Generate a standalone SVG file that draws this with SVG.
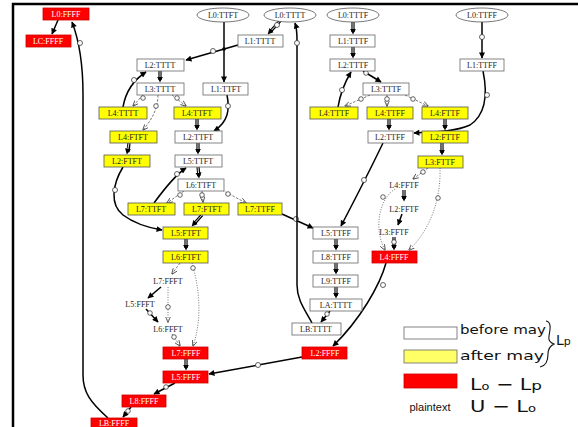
<svg xmlns="http://www.w3.org/2000/svg" width="578" height="427" viewBox="0 0 578 427">
<defs>
<style>
.w{fill:#fff;stroke:#666;stroke-width:0.8}
.y{fill:#ffff00;stroke:#555;stroke-width:0.8}
.r{fill:#f00;stroke:#c00;stroke-width:0.8}
.e{fill:#fff;stroke:#555;stroke-width:0.8}
.t{font-family:"Liberation Serif","Times New Roman",serif;font-size:8px;text-anchor:middle;fill:#222}
.tw{font-family:"Liberation Serif","Times New Roman",serif;font-size:8px;text-anchor:middle;fill:#fff}
.b{fill:none;stroke:#000;stroke-width:1.5;marker-end:url(#ah)}
.db{fill:none;stroke:#000;stroke-width:3.2}
.dw{fill:none;stroke:#fff;stroke-width:0.9;marker-end:url(#ah2)}
.d{fill:none;stroke:#555;stroke-width:0.8;stroke-dasharray:2.5,1.5;marker-end:url(#oh)}
.dt{fill:none;stroke:#555;stroke-width:0.8;stroke-dasharray:1,1.5;marker-end:url(#oh)}
.o{fill:#fff;stroke:#222;stroke-width:0.7}
.hw{font-family:"DejaVu Sans","Liberation Sans",sans-serif;fill:#111}
</style>
<marker id="ah" viewBox="0 0 10 10" refX="9" refY="5" markerWidth="7" markerHeight="6" markerUnits="userSpaceOnUse" orient="auto"><path d="M0,0 L10,5 L0,10 z" fill="#000"/></marker>
<marker id="ah2" viewBox="0 0 10 10" refX="9" refY="5" markerWidth="6" markerHeight="7" markerUnits="userSpaceOnUse" orient="auto"><path d="M0,0 L10,5 L0,10 z" fill="#000"/></marker>
<marker id="oh" viewBox="0 0 10 10" refX="9" refY="5" markerWidth="6" markerHeight="6" markerUnits="userSpaceOnUse" orient="auto"><path d="M0,1 L10,5 L0,9" fill="none" stroke="#444" stroke-width="1.4"/></marker>
</defs>
<rect width="578" height="427" fill="#fff"/>
<path d="M13,427 L13,4 L578,4" fill="none" stroke="#000" stroke-width="2.5"/>

<g id="connectors">
<path class="b" d="M58,20 L52,34"/>
<path class="b" d="M108,418 C 90,402 83,392 83,375 L83,95 C 83,65 79,40 72,22"/>
<circle class="o" cx="80" cy="43" r="2.5"/>
<path class="b" d="M224,22 L224,82"/>
<path class="db" d="M280,21 L270,32"/><path class="dw" d="M280,21 L268,34"/>
<circle class="o" cx="277" cy="25" r="2.5"/>
<path class="b" d="M238,45 L186,60"/>
<circle class="o" cx="213" cy="51" r="2.5"/>
<circle cx="224" cy="49" r="1.8" fill="#000"/>
<path class="db" d="M160,71 L160,80"/><path class="dw" d="M160,71 L160,82"/>
<path class="b" d="M123,107 C 126,90 135,79 146,72"/>
<circle class="o" cx="134" cy="80" r="2.5"/>
<path class="d" d="M143,95 L133,106"/><circle class="o" cx="143" cy="98" r="2.3"/>
<path class="d" d="M158,95 C 158,110 150,122 143,130"/><circle class="o" cx="156" cy="106" r="2.3"/>
<path class="d" d="M172,95 L186,106"/><circle class="o" cx="177" cy="98" r="2.3"/>
<path class="b" d="M227,95 C 230,110 228,122 214,131"/><circle class="o" cx="228" cy="106" r="2.5"/>
<path class="db" d="M197,119 L197,128"/><path class="dw" d="M197,119 L197,130"/>
<path class="db" d="M198,143 L198,152"/><path class="dw" d="M198,143 L198,154"/>
<path class="db" d="M198,167 L199,176"/><path class="dw" d="M198,167 L199,178"/>
<path class="db" d="M129,143 L128,152"/><path class="dw" d="M129,143 L127,154"/>
<path class="b" d="M123,167 C 112,185 110,205 123,215 C 135,224 150,228 162,230"/><circle class="o" cx="115" cy="190" r="2.5"/>
<path class="b" d="M154,203 C 165,188 175,175 186,168"/><circle class="o" cx="177" cy="174" r="2.5"/>
<path class="d" d="M184,191 L167,203"/><circle class="o" cx="180" cy="195" r="2.3"/>
<path class="d" d="M202,191 L203,202"/><circle class="o" cx="202" cy="195" r="2.3"/>
<path class="d" d="M222,190 L246,203"/><circle class="o" cx="228" cy="194" r="2.3"/>
<path class="db" d="M202,215 L194,224"/><path class="dw" d="M202,215 L192,226"/>
<path class="db" d="M186,239 L186,248"/><path class="dw" d="M186,239 L186,250"/>
<path class="d" d="M180,263 L172,274"/>
<path class="dt" d="M192,263 C 200,290 202,320 193,346"/><circle class="o" cx="193" cy="268" r="2.3"/>
<path class="b" d="M161,287 L148,298"/>
<path class="dt" d="M168,287 L168,322"/><circle class="o" cx="168" cy="307" r="2.3"/>
<path class="b" d="M146,309 L158,322"/><circle class="o" cx="150" cy="313" r="2.3"/>
<path class="d" d="M172,334 L180,346"/><circle class="o" cx="174" cy="337" r="2.3"/>
<path class="db" d="M186,359 L186,368"/><path class="dw" d="M186,359 L186,370"/>
<path class="b" d="M175,383 L154,394"/><circle class="o" cx="166" cy="387" r="2.3"/>
<path class="b" d="M131,407 L123,417"/><circle class="o" cx="128" cy="411" r="2.3"/>
<path class="b" d="M302,357 L209,374"/><circle class="o" cx="258" cy="365" r="2.5"/>
<path class="b" d="M282,214 L313,228"/><circle class="o" cx="296" cy="219" r="2.5"/>
<path class="b" d="M383,143 C 370,170 352,205 341,226"/><circle class="o" cx="364" cy="180" r="2.5"/>
<path class="db" d="M336,239 L336,248"/><path class="dw" d="M336,239 L336,250"/>
<path class="db" d="M336,263 L336,272"/><path class="dw" d="M336,263 L336,274"/>
<path class="db" d="M336,287 L336,296"/><path class="dw" d="M336,287 L336,298"/>
<path class="b" d="M330,311 L321,322"/><circle class="o" cx="327" cy="314" r="2.3"/>
<path class="b" d="M312,323 C 305,310 297,300 297,285 L297,40 C 297,30 296,26 295,23"/><circle class="o" cx="297" cy="43" r="2.5"/>
<path class="b" d="M386,263 C 380,285 360,320 333,346"/><circle class="o" cx="383" cy="285" r="2.5"/>
<path class="d" d="M370,95 L345,106"/><circle class="o" cx="361" cy="99" r="2.3"/>
<path class="d" d="M387,95 L387,106"/><circle class="o" cx="387" cy="99" r="2.3"/>
<path class="d" d="M405,95 L428,106"/><circle class="o" cx="413" cy="99" r="2.3"/>
<path class="b" d="M338,107 C 340,95 345,82 351,72"/><circle class="o" cx="342" cy="90" r="2.5"/>
<path class="b" d="M363,71 L381,82"/><circle class="o" cx="366" cy="73" r="2.3"/>
<path class="db" d="M353,22 L353,32"/><path class="dw" d="M353,22 L353,34"/>
<path class="db" d="M353,47 L353,56"/><path class="dw" d="M353,47 L353,58"/>
<path class="b" d="M482,22 L482,58"/><circle class="o" cx="482" cy="37" r="2.5"/>
<path class="db" d="M389,119 L389,128"/><path class="dw" d="M389,119 L389,130"/>
<path class="db" d="M445,119 L445,128"/><path class="dw" d="M445,119 L445,130"/>
<path class="b" d="M483,71 C 488,95 485,115 470,125 C 455,132 430,132 414,133"/><circle class="o" cx="487" cy="95" r="2.5"/>
<path class="db" d="M442,143 L442,153"/><path class="dw" d="M442,143 L442,155"/>
<path class="d" d="M428,168 L413,179"/><circle class="o" cx="423" cy="172" r="2.3"/>
<path class="dt" d="M440,168 C 441,200 430,230 409,250"/><circle class="o" cx="438" cy="198" r="2.3"/>
<path class="db" d="M404,190 L404,199"/><path class="dw" d="M404,190 L404,201"/>
<path class="b" d="M402,214 L398,225"/>
<path class="db" d="M394,237 L394,248"/><path class="dw" d="M394,237 L394,250"/><circle class="o" cx="394" cy="242" r="2.3"/>
<path class="dt" d="M395,189 C 378,200 374,230 385,250"/><circle class="o" cx="383" cy="197" r="2.3"/>
</g>

<g id="n-L0FFFF"><rect class="r" x="43" y="8" width="46" height="12"/><text class="tw" x="66" y="17">L0:FFFF</text></g>
<g id="n-LCFFFF"><rect class="r" x="26" y="35" width="45" height="12"/><text class="tw" x="48" y="44">LC:FFFF</text></g>
<g id="n-L0TTFT"><ellipse class="e" cx="223" cy="15" rx="26" ry="7"/><text class="t" x="223" y="18">L0:TTFT</text></g>
<g id="n-L0TTTT"><ellipse class="e" cx="290" cy="15" rx="26" ry="7"/><text class="t" x="290" y="18">L0:TTTT</text></g>
<g id="n-L0TTTF"><ellipse class="e" cx="353" cy="15" rx="26" ry="7"/><text class="t" x="353" y="18">L0:TTTF</text></g>
<g id="n-L0TTFF"><ellipse class="e" cx="482" cy="15" rx="26" ry="7"/><text class="t" x="482" y="18">L0:TTFF</text></g>
<g id="n-L1TTTT"><rect class="w" x="238" y="35" width="45" height="12"/><text class="t" x="260" y="44">L1:TTTT</text></g>
<g id="n-L1TTTF"><rect class="w" x="330" y="35" width="45" height="12"/><text class="t" x="353" y="44">L1:TTTF</text></g>
<g id="n-L2TTTT"><rect class="w" x="137" y="59" width="47" height="12"/><text class="t" x="160" y="68">L2:TTTT</text></g>
<g id="n-L2TTTF"><rect class="w" x="330" y="59" width="45" height="12"/><text class="t" x="353" y="68">L2:TTTF</text></g>
<g id="n-L1TTFF"><rect class="w" x="460" y="59" width="44" height="12"/><text class="t" x="482" y="68">L1:TTFF</text></g>
<g id="n-L3TTTT"><rect class="w" x="137" y="83" width="47" height="12"/><text class="t" x="160" y="92">L3:TTTT</text></g>
<g id="n-L1TTFT"><rect class="w" x="203" y="83" width="45" height="12"/><text class="t" x="226" y="92">L1:TTFT</text></g>
<g id="n-L3TTTF"><rect class="w" x="363" y="83" width="46" height="12"/><text class="t" x="386" y="92">L3:TTTF</text></g>
<g id="n-L4TTTT"><rect class="y" x="99" y="107" width="48" height="12"/><text class="t" x="123" y="116">L4:TTTT</text></g>
<g id="n-L4TTFT"><rect class="y" x="174" y="107" width="47" height="12"/><text class="t" x="197" y="116">L4:TTFT</text></g>
<g id="n-L4TTTF"><rect class="y" x="310" y="107" width="48" height="12"/><text class="t" x="334" y="116">L4:TTTF</text></g>
<g id="n-L4TTFF"><rect class="y" x="367" y="107" width="46" height="12"/><text class="t" x="390" y="116">L4:TTFF</text></g>
<g id="n-L4FTTF"><rect class="y" x="422" y="107" width="46" height="12"/><text class="t" x="445" y="116">L4:FTTF</text></g>
<g id="n-L4FTFT"><rect class="y" x="110" y="131" width="47" height="12"/><text class="t" x="133" y="140">L4:FTFT</text></g>
<g id="n-L2TTFT"><rect class="w" x="175" y="131" width="47" height="12"/><text class="t" x="198" y="140">L2:TTFT</text></g>
<g id="n-L2TTFF"><rect class="w" x="368" y="131" width="45" height="12"/><text class="t" x="390" y="140">L2:TTFF</text></g>
<g id="n-L2FTTF"><rect class="y" x="422" y="131" width="46" height="12"/><text class="t" x="445" y="140">L2:FTTF</text></g>
<g id="n-L2FTFT"><rect class="y" x="104" y="155" width="46" height="12"/><text class="t" x="127" y="164">L2:FTFT</text></g>
<g id="n-L5TTFT"><rect class="w" x="175" y="155" width="47" height="12"/><text class="t" x="198" y="164">L5:TTFT</text></g>
<g id="n-L3FTTF"><rect class="y" x="418" y="156" width="45" height="12"/><text class="t" x="440" y="165">L3:FTTF</text></g>
<g id="n-L6TTFT"><rect class="w" x="178" y="179" width="46" height="12"/><text class="t" x="201" y="188">L6:TTFT</text></g>
<g id="n-L4FFTF"><text class="t" x="404" y="188">L4:FFTF</text></g>
<g id="n-L7TTFT"><rect class="y" x="128" y="203" width="47" height="12"/><text class="t" x="151" y="212">L7:TTFT</text></g>
<g id="n-L7FTFT"><rect class="y" x="184" y="203" width="45" height="12"/><text class="t" x="207" y="212">L7:FTFT</text></g>
<g id="n-L7TTFF"><rect class="y" x="238" y="203" width="44" height="12"/><text class="t" x="260" y="212">L7:TTFF</text></g>
<g id="n-L2FFTF"><text class="t" x="404" y="212">L2:FFTF</text></g>
<g id="n-L5FTFT"><rect class="y" x="163" y="227" width="45" height="12"/><text class="t" x="186" y="236">L5:FTFT</text></g>
<g id="n-L5TTFF"><rect class="w" x="313" y="227" width="45" height="12"/><text class="t" x="336" y="236">L5:TTFF</text></g>
<g id="n-L3FFTF"><text class="t" x="394" y="235">L3:FFTF</text></g>
<g id="n-L6FTFT"><rect class="y" x="163" y="251" width="45" height="12"/><text class="t" x="186" y="260">L6:FTFT</text></g>
<g id="n-L8TTFF"><rect class="w" x="313" y="251" width="45" height="12"/><text class="t" x="336" y="260">L8:TTFF</text></g>
<g id="n-L4FFFF"><rect class="r" x="372" y="251" width="45" height="12"/><text class="tw" x="394" y="260">L4:FFFF</text></g>
<g id="n-L7FFFT"><text class="t" x="168" y="284">L7:FFFT</text></g>
<g id="n-L9TTFF"><rect class="w" x="313" y="275" width="45" height="12"/><text class="t" x="336" y="284">L9:TTFF</text></g>
<g id="n-L5FFFT"><text class="t" x="140" y="307">L5:FFFT</text></g>
<g id="n-LATTTT"><rect class="w" x="310" y="299" width="52" height="12"/><text class="t" x="336" y="308">LA:TTTT</text></g>
<g id="n-L6FFFT"><text class="t" x="168" y="332">L6:FFFT</text></g>
<g id="n-LBTTTT"><rect class="w" x="292" y="323" width="49" height="12"/><text class="t" x="316" y="332">LB:TTTT</text></g>
<g id="n-L7FFFF"><rect class="r" x="163" y="347" width="45" height="12"/><text class="tw" x="186" y="356">L7:FFFF</text></g>
<g id="n-L2FFFF"><rect class="r" x="302" y="347" width="45" height="12"/><text class="tw" x="325" y="356">L2:FFFF</text></g>
<g id="n-L5FFFF"><rect class="r" x="163" y="371" width="45" height="12"/><text class="tw" x="186" y="380">L5:FFFF</text></g>
<g id="n-L8FFFF"><rect class="r" x="122" y="395" width="44" height="12"/><text class="tw" x="144" y="404">L8:FFFF</text></g>
<g id="n-LBFFFF"><rect class="r" x="91" y="418" width="46" height="11"/><text class="tw" x="114" y="425.5">LB:FFFF</text></g>

<g id="legend">
<rect x="404" y="327" width="53" height="12" fill="#fff" stroke="#666" stroke-width="0.8"/>
<rect x="404" y="350" width="53" height="13" fill="#ffff66" stroke="#666" stroke-width="0.8"/>
<rect x="404" y="374" width="53" height="14" fill="#f00" stroke="#c00" stroke-width="0.8"/>
<text x="430" y="411" font-family="Liberation Sans, Arial, sans-serif" font-size="11" text-anchor="middle" fill="#111">plaintext</text>
<text class="hw" x="460" y="334" font-size="13" textLength="86" lengthAdjust="spacingAndGlyphs">before may</text>
<text class="hw" x="460" y="360" font-size="13" textLength="84" lengthAdjust="spacingAndGlyphs">after may</text>
<path d="M546,321 C 552,322 550,330 549,336 C 548,341 551,343 554,344 C 550,346 548,349 548,354 C 548,361 546,366 540,367" fill="none" stroke="#111" stroke-width="1.1"/>
<text class="hw" x="556" y="345" font-size="14">L<tspan font-size="11">p</tspan></text>
<text class="hw" x="470" y="390" font-size="16" textLength="72" lengthAdjust="spacingAndGlyphs">L<tspan font-size="10">o</tspan> − L<tspan font-size="13">p</tspan></text>
<text class="hw" x="470" y="412" font-size="16" textLength="66" lengthAdjust="spacingAndGlyphs">U − L<tspan font-size="10">o</tspan></text>
</g>
</svg>
